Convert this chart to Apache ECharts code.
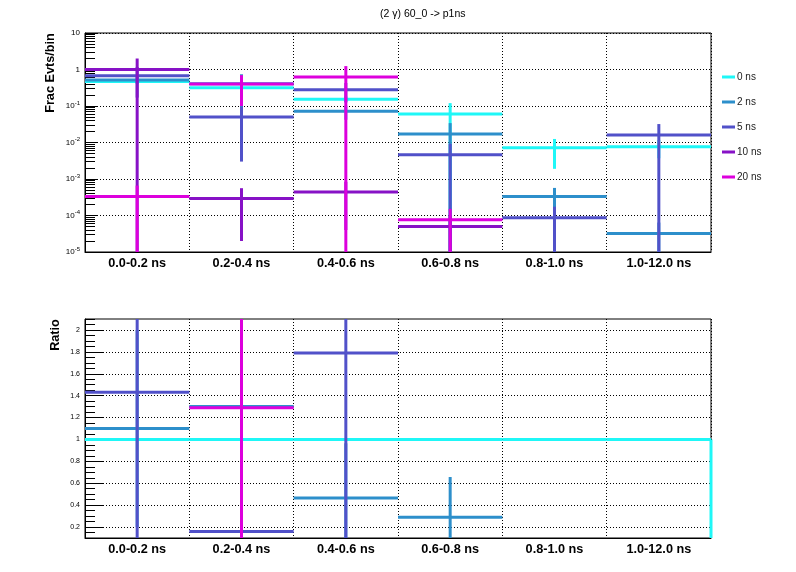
<!DOCTYPE html>
<html><head><meta charset="utf-8">
<script src="https://cdn.jsdelivr.net/npm/echarts@6/dist/echarts.min.js"></script>
<style>html,body{margin:0;padding:0;background:#fff}#c{width:796px;height:572px}</style>
</head><body><div id="c"></div>
<script>
// ---------- data ----------
const categories = ['0.0-0.2 ns', '0.2-0.4 ns', '0.4-0.6 ns', '0.6-0.8 ns', '0.8-1.0 ns', '1.0-12.0 ns'];
const seriesNames = ['0 ns', '2 ns', '5 ns', '10 ns', '20 ns'];

const frac0    = [0.47, 0.315, 0.154, 0.060, 0.0072, 0.0077];
const frac0Err = [0.06, 0.05, 0.03, 0.060, 0.0053, 0.004];
const frac2    = [0.515, 0.41, 0.072, 0.017, 3.3e-4, 3.2e-5];
const frac2Err = [0.10, 0.33, 0.03, 0.017, 2.4e-4, 3.2e-5];
const frac5    = [0.67, 0.050, 0.277, 0.0046, 8.7e-5, 0.016];
const frac5Err = [0.50, 0.047, 0.15, 0.0046, 8.7e-5, 0.016];
const frac10    = [1.0, 2.9e-4, 4.4e-4, 5.0e-5, null, null];
const frac10Err = [1.0, 2.7e-4, 4.0e-4, 5.0e-5, null, null];
const frac20    = [3.3e-4, 0.40, 0.62, 7.6e-5, null, null];
const frac20Err = [3.3e-4, 0.30, 0.62, 7.6e-5, null, null];

const ratio0    = [1, 1, 1, 1, 1, 1];
const ratio2    = [1.10, 1.30, 0.465, 0.29, null, null];
const ratio2Err = [0.9, 1.2, 0.5, 0.367, null, null];
const ratio5    = [1.43, 0.16, 1.79, null, null, null];
const ratio5Err = [1.5, 2.0, 2.0, null, null, null];
const ratio20    = [null, 1.29, null, null, null, null];
const ratio20Err = [null, 2.0, null, null, null, null];

const logTickValues = [1e-5, 1e-4, 1e-3, 1e-2, 1e-1, 1, 10];
const ratioTickValues = [0.2, 0.4, 0.6, 0.8, 1.0, 1.2, 1.4, 1.6, 1.8, 2.0];

// ---------- styling ----------
const colors = ['#1ff7f7', '#2d8fcb', '#5151c9', '#8712c6', '#dd00dd'];
const FONT = '"Liberation Sans", Arial, Helvetica, sans-serif';

const logMinor = [];
for (let d = -5; d < 1; d++) for (let k = 2; k <= 9; k++) logMinor.push(+(k * Math.pow(10, d)).toPrecision(3));
const ratioMinor = [];
for (let k = 0; k <= 40; k++) ratioMinor.push(Math.round((0.1 + 0.05 * k) * 100) / 100);

function toData(vals, errs) {
  const out = [];
  vals.forEach((v, i) => { if (v !== null) out.push([i, v, errs ? errs[i] : 0]); });
  return out;
}

function errRender(color, floor) {
  return function (params, api) {
    const cs = params.coordSys;
    const i = api.value(0), v = api.value(1), e = api.value(2);
    const c = api.coord([i, v]);
    const w = api.size([1, 0])[0];
    let top = api.coord([i, v + e])[1];
    const lo = (v - e) > floor ? (v - e) : floor;
    let bot = api.coord([i, lo])[1];
    top = Math.max(top, cs.y);
    bot = Math.min(bot, cs.y + cs.height);
    const st = { stroke: color, lineWidth: 3 };
    return { type: 'group', children: [
      { type: 'line', shape: { x1: c[0] - w / 2, y1: c[1], x2: c[0] + w / 2, y2: c[1] }, style: st },
      { type: 'line', shape: { x1: c[0], y1: top, x2: c[0], y2: bot }, style: st }
    ]};
  };
}

function histRender(color) {
  return function (params, api) {
    const cs = params.coordSys;
    const idx = params.dataIndexInside;
    const n = params.dataInsideLength;
    const i = api.value(0), v = api.value(1);
    const c = api.coord([i, v]);
    const w = api.size([1, 0])[0];
    const base = cs.y + cs.height;
    const st = { stroke: color, lineWidth: 3 };
    const ch = [{ type: 'line', shape: { x1: c[0] - w / 2, y1: c[1], x2: c[0] + w / 2, y2: c[1] }, style: st }];
    if (idx > 0) {
      const py = api.coord([api.value(0, idx - 1), api.value(1, idx - 1)])[1];
      ch.push({ type: 'line', shape: { x1: c[0] - w / 2, y1: py, x2: c[0] - w / 2, y2: c[1] }, style: st });
    }
    if (idx === n - 1) {
      ch.push({ type: 'line', shape: { x1: c[0] + w / 2, y1: c[1], x2: c[0] + w / 2, y2: base }, style: st });
    }
    return { type: 'group', children: ch };
  };
}

const dotted = { type: [1, 2], color: '#000', width: 1 };

function xAxisCfg(gridIndex) {
  return {
    type: 'category', gridIndex, data: categories, boundaryGap: true,
    axisLine: { lineStyle: { color: '#000', width: 1 } },
    axisTick: { inside: true, length: 7, interval: 0, lineStyle: { color: '#000' } },
    axisLabel: { interval: 0, margin: 5, fontFamily: FONT, fontWeight: 'bold', fontSize: 12.7, color: '#000' },
    splitLine: { show: true, interval: 0, lineStyle: dotted }
  };
}

function supFmt(v) {
  const e = Math.round(Math.log10(v));
  if (e === 0) return '1';
  if (e === 1) return '10';
  return '10{s|' + e + '}';
}

const series = [];
const fracVals = [frac0, frac2, frac5, frac10, frac20];
const fracErrs = [frac0Err, frac2Err, frac5Err, frac10Err, frac20Err];
fracVals.forEach((vals, k) => {
  series.push({
    type: 'custom', name: seriesNames[k], xAxisIndex: 0, yAxisIndex: 0,
    itemStyle: { color: colors[k] }, encode: { x: 0, y: 1 },
    renderItem: errRender(colors[k], 1e-9), data: toData(vals, fracErrs[k]), silent: true
  });
});
series.push({
  type: 'custom', name: seriesNames[0], xAxisIndex: 1, yAxisIndex: 2,
  itemStyle: { color: colors[0] }, encode: { x: 0, y: 1 },
  renderItem: histRender(colors[0]), data: toData(ratio0, null), silent: true
});
[[1, ratio2, ratio2Err], [2, ratio5, ratio5Err], [4, ratio20, ratio20Err]].forEach(([k, vals, errs]) => {
  series.push({
    type: 'custom', name: seriesNames[k], xAxisIndex: 1, yAxisIndex: 2,
    itemStyle: { color: colors[k] }, encode: { x: 0, y: 1 },
    renderItem: errRender(colors[k], -10), data: toData(vals, errs), silent: true
  });
});

const option = {
  animation: false,
  backgroundColor: '#fff',
  title: {
    text: '(2 \u03b3) 60_0 -> p1ns', left: 375, top: 4,
    textStyle: { fontFamily: FONT, fontSize: 10.5, fontWeight: 'normal', color: '#000' }
  },
  legend: {
    data: seriesNames, orient: 'vertical', left: 717, top: 66,
    icon: 'rect', itemWidth: 13, itemHeight: 3, itemGap: 13,
    textStyle: { fontFamily: FONT, fontSize: 10, fontWeight: 'normal', lineHeight: 12, color: '#222', padding: [0, 0, 0, -3] },
    selectedMode: false
  },
  grid: [
    { left: 85, top: 33, width: 626, height: 219, show: true, borderColor: '#000', borderWidth: 1 },
    { left: 85, top: 319, width: 626, height: 219, show: true, borderColor: '#000', borderWidth: 1 }
  ],
  xAxis: [xAxisCfg(0), xAxisCfg(1)],
  yAxis: [
    {
      type: 'log', logBase: 10, gridIndex: 0, min: 1e-5, max: 10, position: 'left',
      axisLine: { show: true, lineStyle: { color: '#000' } },
      axisTick: { show: true, inside: true, length: 13, customValues: logTickValues, lineStyle: { color: '#000' } },
      axisLabel: {
        customValues: logTickValues, formatter: supFmt, margin: 5,
        fontFamily: FONT, fontSize: 8, color: '#000',
        rich: { s: { fontFamily: FONT, fontSize: 6, color: '#000', verticalAlign: 'top', padding: [0, 0, 6, 0] } }
      },
      splitLine: { show: true, lineStyle: dotted }
    },
    {
      type: 'log', logBase: 10, gridIndex: 0, min: 1e-5, max: 10, position: 'left', offset: 0,
      axisLine: { show: false },
      axisTick: { show: true, inside: true, length: 10, customValues: logMinor, lineStyle: { color: '#000' } },
      axisLabel: { show: false }, splitLine: { show: false }
    },
    {
      type: 'value', gridIndex: 1, min: 0.1, max: 2.1, position: 'left',
      axisLine: { show: true, lineStyle: { color: '#000' } },
      axisTick: { show: true, inside: true, length: 19, customValues: ratioTickValues, lineStyle: { color: '#000' } },
      axisLabel: {
        customValues: ratioTickValues, margin: 5, fontFamily: FONT, fontSize: 7, color: '#000',
        formatter: v => String(Math.round(v * 10) / 10)
      },
      splitLine: { show: true, lineStyle: dotted }
    },
    {
      type: 'value', gridIndex: 1, min: 0.1, max: 2.1, position: 'left', offset: 0,
      axisLine: { show: false },
      axisTick: { show: true, inside: true, length: 10, customValues: ratioMinor, lineStyle: { color: '#000' } },
      axisLabel: { show: false }, splitLine: { show: false }
    }
  ],
  graphic: [
    { type: 'text', x: 50, y: 73, rotation: Math.PI / 2,
      style: { text: 'Frac Evts/bin', fontFamily: FONT, fontWeight: 'bold', fontSize: 12.7, fill: '#000', align: 'center', verticalAlign: 'middle' } },
    { type: 'text', x: 55, y: 335, rotation: Math.PI / 2,
      style: { text: 'Ratio', fontFamily: FONT, fontWeight: 'bold', fontSize: 12.7, fill: '#000', align: 'center', verticalAlign: 'middle' } }
  ],
  series
};

const chart = echarts.init(document.getElementById('c'), null, { renderer: 'canvas' });
chart.setOption(option);
</script>
</body></html>
